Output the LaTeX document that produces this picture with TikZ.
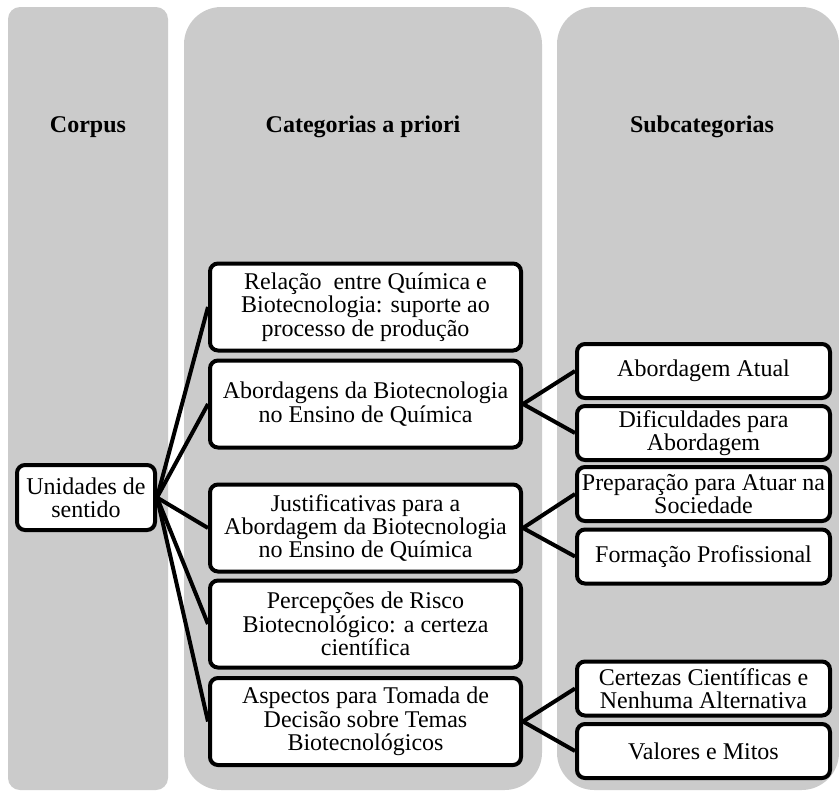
\documentclass[tikz,border=0pt]{standalone}
\usepackage{fontspec}
\setmainfont{Liberation Serif}
\definecolor{colgray}{RGB}{203,203,203}
\tikzset{
  colbg/.style={fill=colgray, draw=none},
  hdr/.style={font=\fontsize{18}{18}\selectfont\bfseries, inner sep=0pt},
  box/.style={draw=black, line width=3pt, rounded corners=6pt, fill=white,
    align=center, inner sep=0pt, font=\fontsize{18}{17.5}\selectfont},
  unitbox/.style={box, minimum width=103.5pt, minimum height=48.75pt},
  catbox/.style={box, minimum width=233.25pt, minimum height=65.25pt},
  subbox/.style={box, minimum width=189.75pt, minimum height=40.5pt},
  link/.style={draw=black, line width=3pt}
}
\begin{document}
\begin{tikzpicture}[x=0.75pt, y=-0.75pt]
\useasboundingbox (0,0) rectangle (839,790);

% three column backgrounds
\fill[colbg, rounded corners=9pt] (8,7) rectangle (168,790);
\fill[colbg, rounded corners=28pt] (184,7) rectangle (542,790);
\fill[colbg, rounded corners=28pt] (557,7) rectangle (839,790);

% column headings
\node[hdr] (h1) at (88,127) {Corpus};
\node[hdr] (h2) at (363,127) {Categorias a priori};
\node[hdr] (h3) at (702,127) {Subcategorias};

% source node
\node[unitbox] (u) at (86,497.5) {Unidades de\\sentido};

% categories
\node[catbox] (c1) at (365.5,307) {Relação\ \ entre Química e\\Biotecnologia: suporte ao\\processo de produção};
\node[catbox] (c2) at (365.5,404) {Abordagens da Biotecnologia\\no Ensino de Química};
\node[catbox] (c3) at (365.5,528) {Justificativas para a\\Abordagem da Biotecnologia\\no Ensino de Química};
\node[catbox] (c4) at (365.5,624) {Percepções de Risco\\Biotecnológico: a certeza\\científica};
\node[catbox] (c5) at (365.5,721.5) {Aspectos para Tomada de\\Decisão sobre Temas\\Biotecnológicos};

% subcategories
\node[subbox] (s1) at (703.5,371) {Abordagem Atual};
\node[subbox] (s2) at (703.5,433) {Dificuldades para\\Abordagem};
\node[subbox] (s3) at (703.5,494) {Preparação para Atuar na\\Sociedade};
\node[subbox] (s4) at (703.5,556.5) {Formação Profissional};
\node[subbox] (s5) at (703.5,688.5) {Certezas Científicas e\\Nenhuma Alternativa};
\node[subbox] (s6) at (703.5,751) {Valores e Mitos};

% connectors
\foreach \c in {c1,c2,c3,c4,c5} \draw[link] (u.east) -- (\c.west);
\draw[link] (c2.east) -- (s1.west);
\draw[link] (c2.east) -- (s2.west);
\draw[link] (c3.east) -- (s3.west);
\draw[link] (c3.east) -- (s4.west);
\draw[link] (c5.east) -- (s5.west);
\draw[link] (c5.east) -- (s6.west);
\end{tikzpicture}
\end{document}
